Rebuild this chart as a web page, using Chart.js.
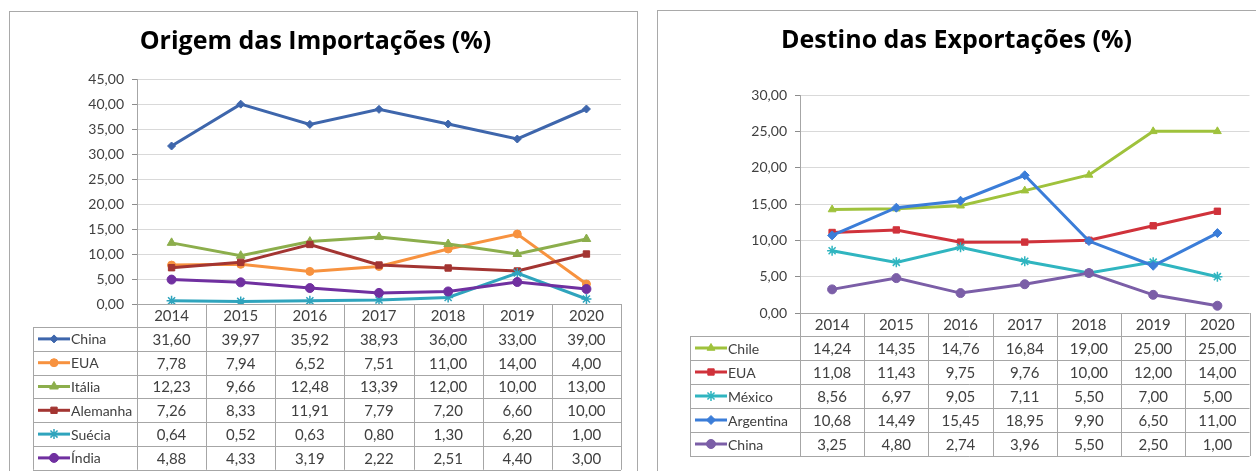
<!DOCTYPE html>
<html>
<head>
<meta charset="utf-8">
<script src="https://cdn.jsdelivr.net/npm/chart.js@4.4.0/dist/chart.umd.min.js"></script>
<style>
  html, body { margin: 0; padding: 0; background: #fff; }
  body { width: 1256px; height: 471px; position: relative; overflow: hidden; }
  .panel { position: absolute; border: 1px solid #a9a9a9; background: #fff; }
  #leftPanel { left: 9px; top: 11px; width: 627px; height: 470px; }
  #rightPanel { left: 657px; top: 10px; width: 610px; height: 470px; }
  canvas { position: absolute; }
  #importChart { left: 10px; top: 12px; }
  #exportChart { left: 658px; top: 11px; }
</style>
</head>
<body>
<div class="panel" id="leftPanel"></div>
<div class="panel" id="rightPanel"></div>
<canvas id="importChart" width="626" height="459"></canvas>
<canvas id="exportChart" width="598" height="460"></canvas>
<script>
const years = ['2014', '2015', '2016', '2017', '2018', '2019', '2020'];

// Origem das Importações (%)
const impChina = [31.60, 39.97, 35.92, 38.93, 36.00, 33.00, 39.00];
const impEUA = [7.78, 7.94, 6.52, 7.51, 11.00, 14.00, 4.00];
const impItalia = [12.23, 9.66, 12.48, 13.39, 12.00, 10.00, 13.00];
const impAlemanha = [7.26, 8.33, 11.91, 7.79, 7.20, 6.60, 10.00];
const impSuecia = [0.64, 0.52, 0.63, 0.80, 1.30, 6.20, 1.00];
const impIndia = [4.88, 4.33, 3.19, 2.22, 2.51, 4.40, 3.00];

// Destino das Exportações (%)
const expChile = [14.24, 14.35, 14.76, 16.84, 19.00, 25.00, 25.00];
const expEUA = [11.08, 11.43, 9.75, 9.76, 10.00, 12.00, 14.00];
const expMexico = [8.56, 6.97, 9.05, 7.11, 5.50, 7.00, 5.00];
const expArgentina = [10.68, 14.49, 15.45, 18.95, 9.90, 6.50, 11.00];
const expChina = [3.25, 4.80, 2.74, 3.96, 5.50, 2.50, 1.00];

const FONT = 'Lato, "Open Sans", sans-serif';
const TITLE_FONT = '"Open Sans", Lato, sans-serif';
const fmt = v => v.toFixed(2).replace('.', ',');

function series(label, data, color, style, radius, n, i) {
  return {
    label,
    data,
    borderColor: color,
    backgroundColor: color,
    borderWidth: 3,
    pointStyle: style,
    pointRadius: radius,
    pointBorderWidth: style === 'star' ? 1.5 : 1,
    pointBackgroundColor: color,
    pointBorderColor: color,
    tension: 0,
    order: n - i,
  };
}

// data table drawn under the plot, columns follow the x scale bands
const dataTable = {
  id: 'dataTable',
  afterDraw(chart, args, opts) {
    const { ctx, chartArea } = chart;
    const xs = chart.scales.x;
    const n = chart.data.labels.length;
    const band = (chartArea.right - chartArea.left) / n;
    const top = chartArea.bottom;
    const headBottom = top + opts.headerHeight;
    const sets = chart.data.datasets;
    const bottom = headBottom + opts.rowHeight * sets.length;
    const L = opts.labelLeft;

    ctx.save();
    ctx.strokeStyle = '#a6a6a6';
    ctx.lineWidth = 1;
    ctx.beginPath();
    ctx.moveTo(chartArea.left, top + 0.5);
    ctx.lineTo(chartArea.right, top + 0.5);
    for (let r = 0; r <= sets.length; r++) {
      const y = Math.round(headBottom + r * opts.rowHeight) + 0.5;
      ctx.moveTo(L, y);
      ctx.lineTo(chartArea.right, y);
    }
    for (let c = 0; c <= n; c++) {
      const x = Math.round(chartArea.left + c * band) + 0.5;
      ctx.moveTo(x, top);
      ctx.lineTo(x, bottom);
    }
    ctx.moveTo(L + 0.5, headBottom);
    ctx.lineTo(L + 0.5, bottom);
    ctx.stroke();

    ctx.fillStyle = '#404040';
    ctx.font = '15px ' + FONT;
    ctx.textAlign = 'center';
    ctx.textBaseline = 'middle';
    chart.data.labels.forEach((lab, i) => {
      ctx.fillText(lab, xs.getPixelForValue(i), top + opts.headerHeight / 2 + 1);
    });

    sets.forEach((ds, r) => {
      const cy = headBottom + (r + 0.5) * opts.rowHeight + 1;
      ctx.font = '15px ' + FONT;
      ds.data.forEach((v, i) => {
        ctx.fillStyle = '#404040';
        ctx.textAlign = 'center';
        ctx.fillText(fmt(v), xs.getPixelForValue(i), cy);
      });
      // legend key
      const ly = cy - 1;
      ctx.strokeStyle = ds.borderColor;
      ctx.lineWidth = 3;
      ctx.beginPath();
      ctx.moveTo(L + 5, ly);
      ctx.lineTo(L + 37, ly);
      ctx.stroke();
      ctx.fillStyle = ds.borderColor;
      ctx.lineWidth = ds.pointBorderWidth;
      Chart.helpers.drawPoint(ctx, {
        pointStyle: ds.pointStyle,
        radius: ds.pointRadius,
        rotation: 0,
        borderWidth: ds.pointBorderWidth,
      }, L + 21, ly);
      ctx.fillStyle = '#404040';
      ctx.textAlign = 'left';
      ctx.font = '14px ' + FONT;
      ctx.fillText(ds.label, L + 38, cy);
    });
    ctx.restore();
  },
};

function makeChart(id, title, datasets, yMax, cfg) {
  return new Chart(document.getElementById(id), {
    type: 'line',
    data: { labels: years, datasets },
    plugins: [dataTable],
    options: {
      responsive: false,
      animation: false,
      layout: { padding: { left: 0, right: cfg.padRight, top: 0, bottom: cfg.padBottom } },
      scales: {
        x: { display: false, offset: true },
        y: {
          min: 0,
          max: yMax,
          afterFit: s => { s.width = cfg.yWidth; },
          ticks: {
            stepSize: 5,
            color: '#404040',
            padding: 8,
            font: { family: FONT, size: 14 },
            callback: v => fmt(v),
          },
          grid: { color: '#d9d9d9', tickColor: '#8c8c8c', tickLength: 5 },
          border: { color: '#a6a6a6' },
        },
      },
      plugins: {
        legend: { display: false },
        tooltip: { enabled: false },
        title: {
          display: true,
          text: title,
          color: '#000',
          font: { family: TITLE_FONT, size: 25, weight: 'bold', lineHeight: 1.2 },
          padding: { top: cfg.titleTop, bottom: cfg.titleBottom },
        },
        dataTable: cfg.table,
      },
    },
  });
}

makeChart('importChart', 'Origem das Importações (%)', [
  series('China', impChina, '#3e66ac', 'rectRot', 4, 6, 0),
  series('EUA', impEUA, '#f7923f', 'circle', 4, 6, 1),
  series('Itália', impItalia, '#8cae4c', 'triangle', 5, 6, 2),
  series('Alemanha', impAlemanha, '#a33532', 'rect', 4.5, 6, 3),
  series('Suécia', impSuecia, '#2fa4bd', 'star', 5, 6, 4),
  series('Índia', impIndia, '#7030a0', 'circle', 4.5, 6, 5),
], 45, {
  padRight: 15, padBottom: 167, yWidth: 127,
  titleTop: 15, titleBottom: 22,
  table: { labelLeft: 23, headerHeight: 23, rowHeight: 23.8 },
});

makeChart('exportChart', 'Destino das Exportações (%)', [
  series('Chile', expChile, '#9fc23c', 'triangle', 4.5, 5, 0),
  series('EUA', expEUA, '#d0323b', 'rect', 4.5, 5, 1),
  series('México', expMexico, '#30b5c0', 'star', 5, 5, 2),
  series('Argentina', expArgentina, '#3b7dd8', 'rectRot', 4.5, 5, 3),
  series('China', expChina, '#7b5ea7', 'circle', 4.5, 5, 4),
], 30, {
  padRight: 1, padBottom: 158, yWidth: 142,
  titleTop: 15, titleBottom: 39,
  table: { labelLeft: 32, headerHeight: 23, rowHeight: 24 },
});
</script>
</body>
</html>
